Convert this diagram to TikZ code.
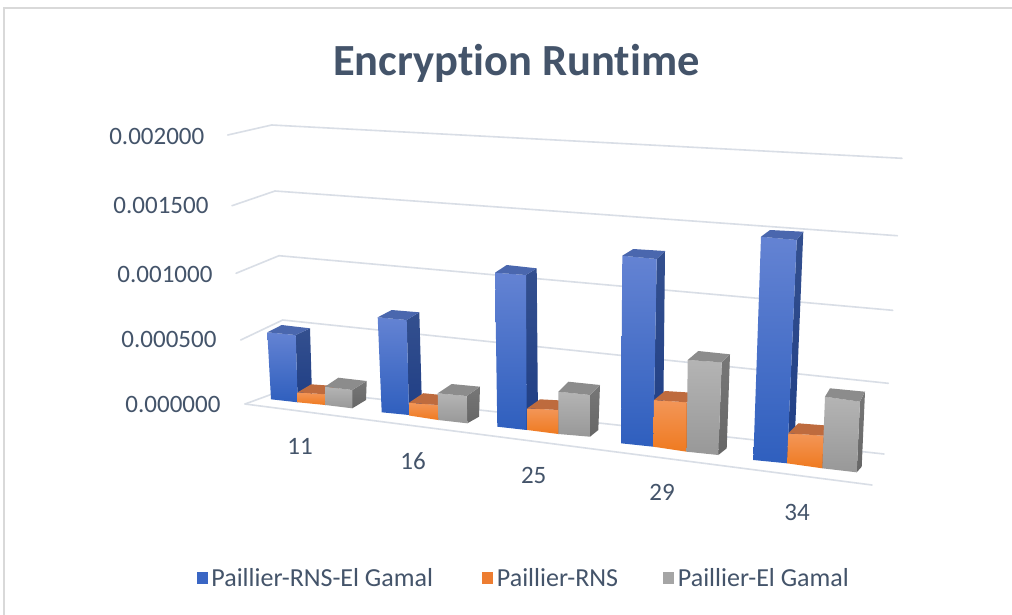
\documentclass[tikz,border=0pt]{standalone}
\usepackage{fontspec}
\setmainfont{Carlito}[Ligatures=NoCommon]
\usepackage{tikz}
\usetikzlibrary{positioning}
\definecolor{TextSlate}{HTML}{44546A}
\definecolor{GridGrey}{HTML}{D9DEE6}
\definecolor{FrameGrey}{HTML}{D9D9D9}
\definecolor{BarBlue}{HTML}{3A66C4}
\definecolor{BarOrange}{HTML}{ED7D31}
\definecolor{BarGrey}{HTML}{A5A5A5}
\definecolor{BlueFrontTop}{HTML}{6483D3}
\definecolor{BlueFrontBot}{HTML}{2F5FBE}
\definecolor{BlueSideTop}{HTML}{34508F}
\definecolor{BlueSideBot}{HTML}{1F3E85}
\definecolor{BlueLid}{HTML}{4A67AE}
\definecolor{OrangeFrontTop}{HTML}{F39658}
\definecolor{OrangeFrontBot}{HTML}{EF7A20}
\definecolor{OrangeSideTop}{HTML}{C8682E}
\definecolor{OrangeSideBot}{HTML}{B85A1A}
\definecolor{OrangeLid}{HTML}{BE6B3E}
\definecolor{GreyFrontTop}{HTML}{B4B4B4}
\definecolor{GreyFrontBot}{HTML}{989898}
\definecolor{GreySideTop}{HTML}{777777}
\definecolor{GreySideBot}{HTML}{666666}
\definecolor{GreyLid}{HTML}{8C8C8C}
\tikzset{
  gridln/.style={draw=GridGrey,line width=1.6pt,line cap=round},
  ticklbl/.style={inner sep=0pt,text=TextSlate,font=\fontsize{25}{28}\selectfont},
  legsq/.style={rectangle,draw=none,minimum width=11pt,minimum height=12pt,inner sep=0pt},
  legtxt/.style={ticklbl,anchor=west,font=\fontsize{26}{29}\selectfont},
  bluefront/.style={top color=BlueFrontTop,bottom color=BlueFrontBot},
  blueside/.style={top color=BlueSideTop,bottom color=BlueSideBot},
  bluetop/.style={fill=BlueLid},
  orangefront/.style={top color=OrangeFrontTop,bottom color=OrangeFrontBot},
  orangeside/.style={top color=OrangeSideTop,bottom color=OrangeSideBot},
  orangetop/.style={fill=OrangeLid},
  greyfront/.style={top color=GreyFrontTop,bottom color=GreyFrontBot},
  greyside/.style={top color=GreySideTop,bottom color=GreySideBot},
  greytop/.style={fill=GreyLid}
}
% one 3d column: #1 series, then FLb, FRb, FRt, FLt, BLt, BRt, BRb
\newcommand{\runbar}[8]{%
  \shade[#1side] #3 -- #4 -- #7 -- #8 -- cycle;
  \shade[#1front] #2 -- #3 -- #4 -- #5 -- cycle;
  \fill[#1top] #5 -- #4 -- #7 -- #6 -- cycle;
}

\begin{document}
\begin{tikzpicture}[x=1pt,y=-1pt]
  \useasboundingbox (0,0) rectangle (1012,614);
  \fill[white] (0,0) rectangle (1012,614);
  \draw[FrameGrey,line width=1.5pt] (4,8) rectangle (1040,640);

  % walls and floor
  \foreach \fx/\fy/\bx/\by/\rx/\ry in {245/404/286/389/884/454,
      240.7/340/282.7/320/888.3/383.3, 236/273.3/279/255.7/892.7/310.3,
      232/205.7/275/191/897.3/235.7, 227.7/135/271.7/125/902/158.3}
    \draw[gridln] (\fx,\fy) -- (\bx,\by) -- (\rx,\ry);
  \draw[gridln] (245,404) -- (872,485);

  % columns, group by group
  \runbar{blue}{(271,399.3)}{(297.7,402.3)}{(295.7,335)}{(267.3,332.3)}{(281.7,325)}{(310,328.3)}{(312,395)}
  \runbar{orange}{(297.7,402.3)}{(325.3,405)}{(325,394.3)}{(297.7,392.3)}{(311.2,384.3)}{(338.5,386.3)}{(339,397)}
  \runbar{grey}{(325.3,405)}{(352.3,408.3)}{(352.3,390)}{(325,386.7)}{(338.3,377.7)}{(366.7,381)}{(366,400)}

  \runbar{blue}{(381.7,412.3)}{(409,415)}{(406.7,320)}{(377.7,317.3)}{(391.7,310)}{(419.3,312.3)}{(422,408)}
  \runbar{orange}{(409,415.5)}{(438.3,420)}{(437.7,405)}{(409,402.7)}{(423.3,393.2)}{(452,396)}{(452,412)}
  \runbar{grey}{(438.3,420)}{(467.3,423.3)}{(466.7,396)}{(437.7,393.3)}{(451.7,384)}{(480,386.7)}{(479,416.7)}

  \runbar{blue}{(497.3,426.7)}{(526.7,430)}{(526,275)}{(495,272.7)}{(506.7,265)}{(536.7,268.3)}{(538,423)}
  \runbar{orange}{(527.3,430)}{(558.3,434)}{(558.3,410)}{(527.3,408.3)}{(540,399.3)}{(571,401)}{(571,426)}
  \runbar{grey}{(558.3,434)}{(590,436.7)}{(590,395)}{(558.3,391.7)}{(568.3,381.7)}{(600,385)}{(598.3,430)}

  \runbar{blue}{(621,443.3)}{(653.3,446.7)}{(656.7,259)}{(622.3,255.7)}{(633.3,249)}{(665,251)}{(663,440)}
  \runbar{orange}{(653.3,446.7)}{(686.7,451.7)}{(686.7,402.3)}{(654,400)}{(665,391)}{(697,393)}{(697,444)}
  \runbar{grey}{(686.7,451.7)}{(718.3,455)}{(721.7,362.3)}{(687.7,360)}{(698.3,351)}{(730,354.3)}{(726.7,448.3)}

  \runbar{blue}{(753.3,460)}{(787,463.3)}{(796.7,240)}{(761,236.7)}{(770,230)}{(803.3,231.7)}{(794,457)}
  \runbar{orange}{(787,463.3)}{(822.3,468.3)}{(823.3,435.7)}{(788.3,433.3)}{(798.3,423.3)}{(833,426)}{(832,460)}
  \runbar{grey}{(822.3,468.3)}{(856.7,472.3)}{(860,401.7)}{(825,396.7)}{(830,388.3)}{(865,391.7)}{(861.7,466.7)}

  % labels
  \node[text=TextSlate,font=\fontsize{44.5}{50}\selectfont\bfseries,anchor=base] (title) at (516.5,75) {Encryption Runtime};
  \foreach \val/\lx/\ly [count=\i] in {0.000000/220.7/404, 0.000500/216.7/339,
      0.001000/212.7/274, 0.001500/208.7/205.5, 0.002000/204.5/136}
    \node[ticklbl,anchor=east] (tick\i) at (\lx,\ly) {\val};
  \foreach \cat/\cx/\cy in {11/300/446, 16/413/461, 25/533.7/475.5, 29/662/492.5, 34/797/512}
    \node[ticklbl] (cat\cat) at (\cx,\cy) {\cat};

  % legend
  \node[legsq,fill=BarBlue] (keyA) at (202,578) {};
  \node[legtxt,right=3.5pt of keyA] (txtA) {Paillier-RNS-El Gamal};
  \node[legsq,fill=BarOrange] (keyB) at (487.5,578) {};
  \node[legtxt,right=3.5pt of keyB] (txtB) {Paillier-RNS};
  \node[legsq,fill=BarGrey] (keyC) at (668.5,578) {};
  \node[legtxt,right=3.5pt of keyC] (txtC) {Paillier-El Gamal};
\end{tikzpicture}
\end{document}
